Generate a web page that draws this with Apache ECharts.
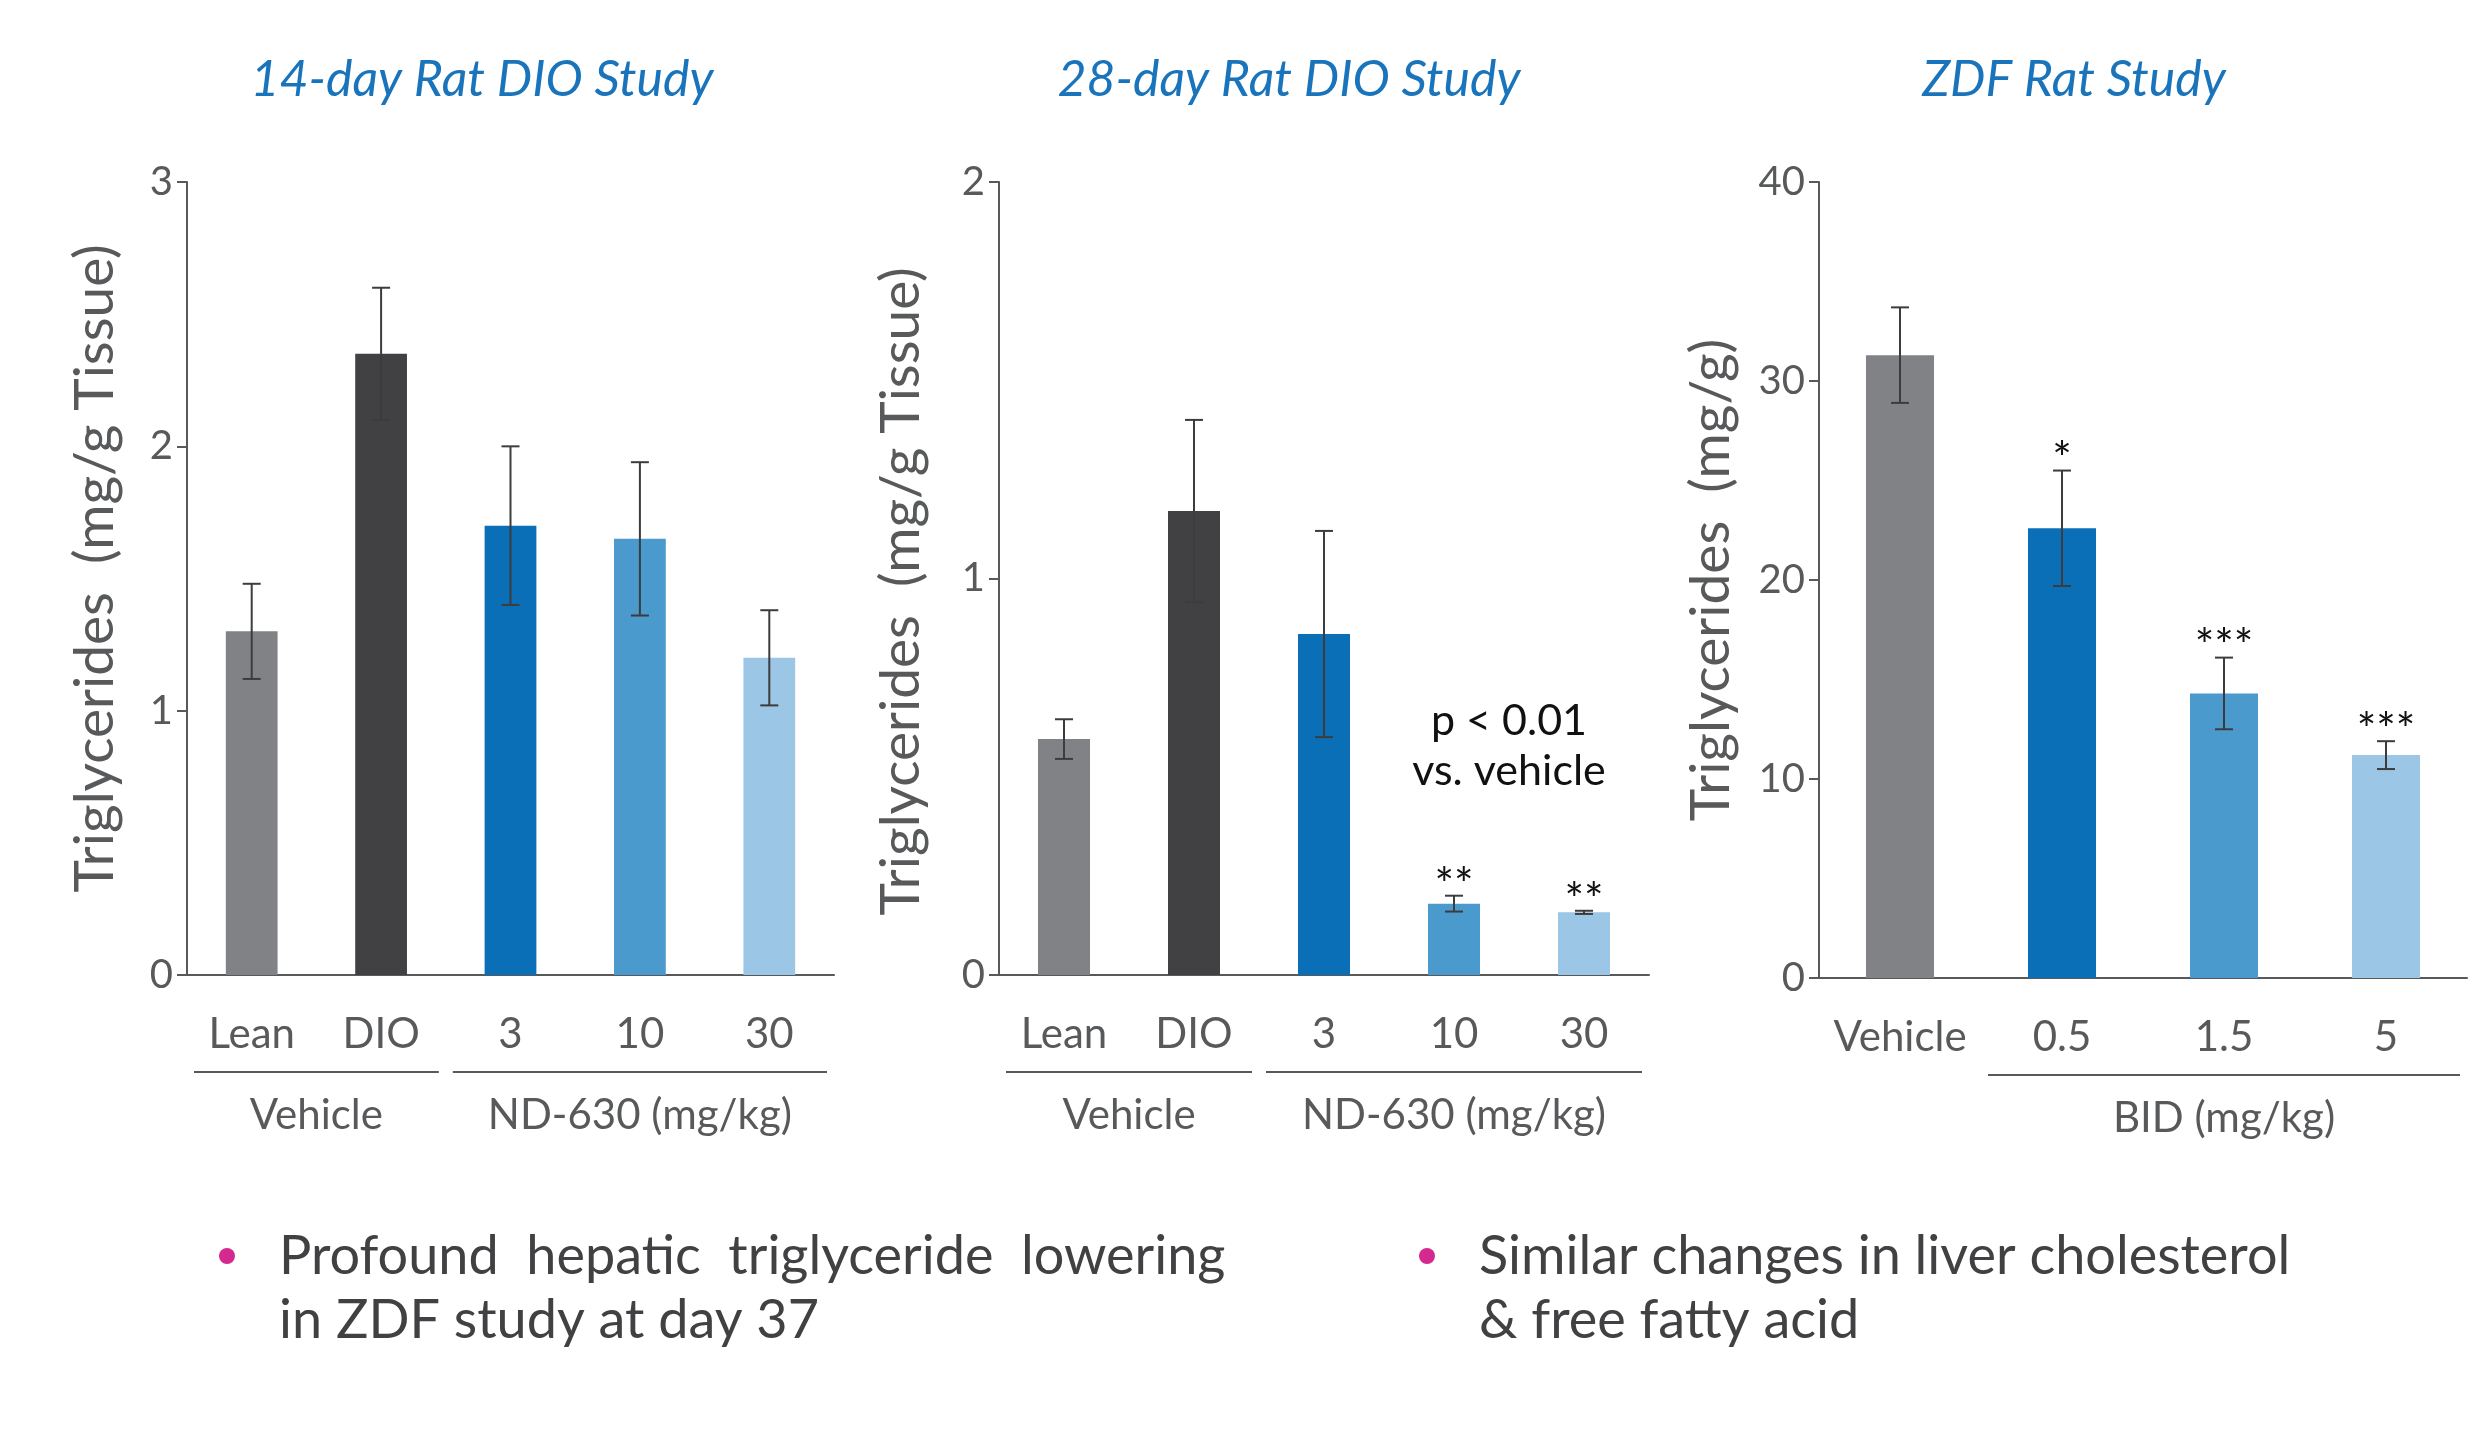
<!DOCTYPE html>
<html>
<head>
<meta charset="utf-8">
<title>Hepatic triglycerides</title>
<script src="https://cdn.jsdelivr.net/npm/echarts@6/dist/echarts.min.js"></script>
<style>
  html, body { margin: 0; padding: 0; background: #fff; }
  #main { width: 2486px; height: 1432px; }
</style>
</head>
<body>
<div id="main"></div>
<script>
// 14-day Rat DIO Study
const cats14 = ['Lean', 'DIO', '3', '10', '30']
const tg14 = [1.30, 2.35, 1.70, 1.65, 1.20]
const err14 = [0.18, 0.25, 0.30, 0.29, 0.18]
const stars14 = ['', '', '', '', '']
const groups14 = [['Vehicle', 0, 1], ['ND-630 (mg/kg)', 2, 4]]

// 28-day Rat DIO Study
const cats28 = ['Lean', 'DIO', '3', '10', '30']
const tg28 = [0.595, 1.17, 0.86, 0.18, 0.158]
const err28 = [0.05, 0.23, 0.26, 0.02, 0.004]
const stars28 = ['', '', '', '**', '**']
const groups28 = [['Vehicle', 0, 1], ['ND-630 (mg/kg)', 2, 4]]

// ZDF Rat Study
const catsZdf = ['Vehicle', '0.5', '1.5', '5']
const tgZdf = [31.3, 22.6, 14.3, 11.2]
const errZdf = [2.4, 2.9, 1.8, 0.7]
const starsZdf = ['', '*', '***', '***']
const groupsZdf = [['BID (mg/kg)', 1, 3]]

// y axis ranges: [max, interval]
const yRange = [[3, 1], [2, 1], [40, 10]]

const colors5 = ['#808285', '#414042', '#0b6fb8', '#4b9acd', '#9bc6e6']
const colors4 = ['#808285', '#0b6fb8', '#4b9acd', '#9bc6e6']

const FONT = 'Lato'
const GREY = '#58595b'

const chart = echarts.init(document.getElementById('main'))

function errorBars(idx, cats, vals, errs, stars) {
    return {
        type: 'custom',
        xAxisIndex: idx,
        yAxisIndex: idx,
        z: 5,
        clip: false,
        data: cats.map((c, i) => [i, vals[i] - errs[i], vals[i] + errs[i]]),
        encode: { x: 0, y: [1, 2] },
        renderItem(params, api) {
            const x = api.coord([api.value(0), 0])[0]
            const lo = api.coord([api.value(0), api.value(1)])[1]
            const hi = api.coord([api.value(0), api.value(2)])[1]
            const w = 9
            const st = { stroke: '#3c3c3c', lineWidth: 2 }
            const children = [
                { type: 'line', shape: { x1: x, y1: lo, x2: x, y2: hi }, style: st },
                { type: 'line', shape: { x1: x - w, y1: lo, x2: x + w, y2: lo }, style: st },
                { type: 'line', shape: { x1: x - w, y1: hi, x2: x + w, y2: hi }, style: st }
            ]
            const s = stars[params.dataIndex]
            if (s) {
                children.push({
                    type: 'text', x: x, y: hi + 13,
                    style: { text: s, fill: '#111', font: '46px ' + FONT, align: 'center', verticalAlign: 'bottom' }
                })
            }
            return { type: 'group', children: children }
        }
    }
}

function bars(idx, vals, colors, width) {
    return {
        type: 'bar',
        xAxisIndex: idx,
        yAxisIndex: idx,
        barWidth: width,
        data: vals.map((v, i) => ({ value: v, itemStyle: { color: colors[i] } }))
    }
}

function xAxis(idx, cats) {
    return {
        type: 'category',
        gridIndex: idx,
        data: cats,
        axisLine: { lineStyle: { color: GREY, width: 2 } },
        axisTick: { length: 16, lineStyle: { color: GREY, width: 2 } },
        axisLabel: { color: GREY, fontSize: 42, fontFamily: FONT, margin: 38, interval: 0 }
    }
}

function yAxis(idx, name, gap, pad) {
    return {
        type: 'value',
        gridIndex: idx,
        min: 0,
        max: yRange[idx][0],
        interval: yRange[idx][1],
        name: name,
        nameLocation: 'middle',
        nameGap: gap,
        nameTextStyle: { color: GREY, fontSize: 55, fontFamily: FONT, padding: pad },
        splitLine: { show: false },
        axisLine: { show: true, lineStyle: { color: GREY, width: 2 } },
        axisTick: { show: true, length: 10, lineStyle: { color: GREY, width: 2 } },
        axisLabel: { color: GREY, fontSize: 40, fontFamily: FONT, margin: 14 }
    }
}

const titleStyle = { color: '#1a74bb', fontSize: 50, fontStyle: 'italic', fontWeight: 'normal', fontFamily: FONT }

chart.setOption({
    animation: false,
    title: [
        { text: '14-day Rat DIO Study', left: 477, top: 50, textAlign: 'center', textStyle: titleStyle },
        { text: '28-day Rat DIO Study', left: 1284, top: 50, textAlign: 'center', textStyle: titleStyle },
        { text: 'ZDF Rat Study', left: 2069, top: 50, textAlign: 'center', textStyle: titleStyle }
    ],
    grid: [
        { left: 187, top: 182, width: 647, height: 793 },
        { left: 999, top: 182, width: 650, height: 793 },
        { left: 1819, top: 182, width: 648, height: 796 }
    ],
    xAxis: [xAxis(0, cats14), xAxis(1, cats28), xAxis(2, catsZdf)],
    yAxis: [
        yAxis(0, 'Triglycerides  (mg/g Tissue)', 64, [0, 0, 0, 20]),
        yAxis(1, 'Triglycerides  (mg/g Tissue)', 70, [0, 26, 0, 0]),
        yAxis(2, 'Triglycerides  (mg/g)', 80, 0)
    ],
    series: [
        bars(0, tg14, colors5, '40%'),
        errorBars(0, cats14, tg14, err14, stars14),
        bars(1, tg28, colors5, '40%'),
        errorBars(1, cats28, tg28, err28, stars28),
        bars(2, tgZdf, colors4, '42%'),
        errorBars(2, catsZdf, tgZdf, errZdf, starsZdf)
    ]
})

// group brackets under the category labels
function groupGraphics(idx, cats, groups) {
    const out = []
    const px = c => chart.convertToPixel({ xAxisIndex: idx }, c)
    const half = (px(cats[1]) - px(cats[0])) / 2
    const y0 = chart.convertToPixel({ yAxisIndex: idx }, 0)
    groups.forEach(g => {
        const x0 = px(cats[g[1]]) - half + 7
        const x1 = px(cats[g[2]]) + half - 7
        out.push({
            type: 'line',
            shape: { x1: x0, y1: y0 + 97, x2: x1, y2: y0 + 97 },
            style: { stroke: GREY, lineWidth: 2 }
        })
        out.push({
            type: 'text', x: (x0 + x1) / 2, y: y0 + 140,
            style: { text: g[0], fill: GREY, font: '42px ' + FONT, align: 'center', verticalAlign: 'middle' }
        })
    })
    return out
}

const bulletText = { fill: '#414042', font: '54px ' + FONT, verticalAlign: 'middle' }
const noteText = { fill: '#111', font: '43px ' + FONT, align: 'center', verticalAlign: 'middle' }

chart.setOption({
    graphic: [].concat(
        groupGraphics(0, cats14, groups14),
        groupGraphics(1, cats28, groups28),
        groupGraphics(2, catsZdf, groupsZdf),
        [
            { type: 'text', x: 1509, y: 721, style: Object.assign({ text: 'p < 0.01' }, noteText) },
            { type: 'text', x: 1509, y: 771, style: Object.assign({ text: 'vs. vehicle' }, noteText) },
            { type: 'circle', shape: { cx: 227, cy: 1256, r: 8 }, style: { fill: '#d42a90' } },
            { type: 'text', x: 279, y: 1257, style: Object.assign({ text: 'Profound  hepatic  triglyceride  lowering' }, bulletText) },
            { type: 'text', x: 279, y: 1321, style: Object.assign({ text: 'in ZDF study at day 37' }, bulletText) },
            { type: 'circle', shape: { cx: 1427, cy: 1256, r: 8 }, style: { fill: '#d42a90' } },
            { type: 'text', x: 1479, y: 1257, style: Object.assign({ text: 'Similar changes in liver cholesterol' }, bulletText) },
            { type: 'text', x: 1479, y: 1321, style: Object.assign({ text: '& free fatty acid' }, bulletText) }
        ]
    )
})
</script>
</body>
</html>
